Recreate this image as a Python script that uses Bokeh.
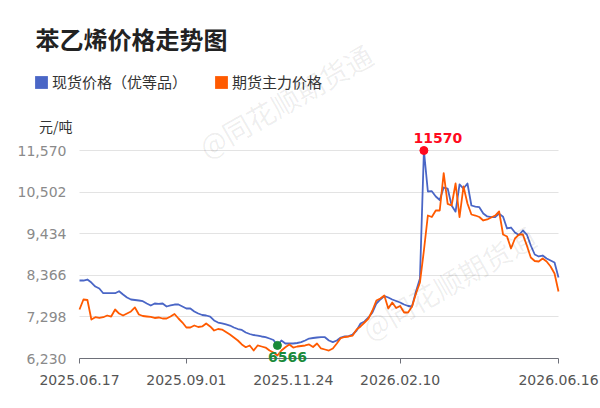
from bokeh.plotting import figure
from bokeh.models import (Range1d, FixedTicker, NumeralTickFormatter, Label, Legend,
                          LegendItem, LinearAxis, Grid)
from bokeh.embed import file_html
from bokeh.resources import INLINE

title_text = "苯乙烯价格走势图"
unit_text = "元/吨"
watermark = "@同花顺期货通"
series_names = ["现货价格（优等品）", "期货主力价格"]
tick_idx = [0, 54, 108, 162, 242]
tick_labels = ["2025.06.17", "2025.09.01", "2025.11.24", "2026.02.10", "2026.06.16"]
tick_marks = [0, 54, 162, 242]
y_ticks = [6230, 7298, 8366, 9434, 10502, 11570]
idx = list(range(0, 243, 2))

spot = [
    8232, 8232, 8258, 8180, 8078, 8027, 7906, 7906, 7906, 7906,
    7957, 7873, 7796, 7745, 7732, 7719, 7701, 7642, 7591, 7642,
    7630, 7642, 7565, 7591, 7616, 7616, 7565, 7514, 7514, 7437,
    7385, 7347, 7334, 7308, 7206, 7154, 7129, 7103, 7077, 7026,
    6987, 6962, 6897, 6859, 6833, 6820, 6795, 6777, 6743, 6705,
    6566, 6692, 6615, 6615, 6615, 6628, 6649, 6692, 6743, 6756,
    6769, 6777, 6777, 6692, 6649, 6692, 6769, 6795, 6807, 6846,
    6949, 7129, 7180, 7283, 7411, 7642, 7745, 7835, 7796, 7745,
    7706, 7668, 7616, 7578, 7565, 7950, 8284, 11570, 10517, 10525,
    10389, 10299, 10620, 10594, 10158, 10000, 10700, 10594, 10723, 10158,
    10132, 10114, 9953, 9876, 9858, 9858, 9950, 9870, 9568, 9593,
    9465, 9400, 9516, 9413, 9131, 8900, 8849, 8874, 8797, 8746,
    8695, 8310,
]
futures = [
    7488, 7745, 7732, 7231, 7290, 7270, 7290, 7334, 7308, 7488,
    7385, 7334, 7385, 7437, 7540, 7360, 7321, 7308, 7296, 7270,
    7283, 7257, 7257, 7308, 7372, 7257, 7154, 7026, 7026, 7077,
    7039, 7052, 7129, 7052, 6949, 6987, 6974, 6910, 6846, 6769,
    6692, 6590, 6520, 6564, 6435, 6564, 6538, 6512, 6435, 6384,
    6307, 6435, 6520, 6590, 6512, 6538, 6551, 6564, 6590, 6525,
    6615, 6487, 6461, 6435, 6487, 6615, 6756, 6782, 6795, 6820,
    6974, 7052, 7154, 7257, 7462, 7719, 7770, 7847, 7514, 7668,
    7527, 7578, 7411, 7411, 7565, 7899, 8181, 9003, 9901, 9862,
    10030, 10030, 10990, 10200, 10158, 10723, 9858, 10646, 10210, 9927,
    9901, 9862, 9773, 9799, 9850, 9901, 10004, 9413, 9362, 9054,
    9311, 9413, 9413, 9131, 8823, 8733, 8720, 8797, 8720, 8592,
    8412, 7950,
]

BLUE = "#4a66c6"
ORANGE = "#ff5a00"
CJK = "Noto Sans CJK SC"
NUM = "DejaVu Sans"

# layout (pixels): the plotting area inside the full-canvas frame
W, H = 600, 408
PL, PR, PT, PB = 79, 558, 150, 358
x0, x1 = idx[0], idx[-1]
y0, y1 = y_ticks[0], y_ticks[-1]
sx = (x1 - x0) / (PR - PL)
sy = (y1 - y0) / (PB - PT)
xr = Range1d(x0 - PL * sx, x1 + (W - PR) * sx)
yr = Range1d(y0 - (H - PB) * sy, y1 + PT * sy)

p = figure(width=W, height=H, output_backend="svg", toolbar_location=None,
           x_range=xr, y_range=yr, x_axis_location=None, y_axis_location=None,
           min_border=0, min_border_left=0, min_border_right=0,
           min_border_top=0, min_border_bottom=0)
p.outline_line_color = None
p.background_fill_color = "white"
p.border_fill_color = "white"
p.grid.visible = False

# watermarks
for wx, wy in [(285, H - 100), (448, H - 282)]:
    p.add_layout(Label(x=wx, y=wy, x_units="screen", y_units="screen", text=watermark,
                       angle=0.52, text_align="center", text_baseline="middle",
                       text_font=CJK, text_font_size="28px", text_color="#000000", text_alpha=0.07))

# grid
ygrid = Grid(dimension=1, ticker=FixedTicker(ticks=y_ticks), bounds=(y0, y1),
             cross_bounds=(x0, x1), grid_line_color="#e3e3e3", grid_line_width=1)
p.add_layout(ygrid)

# x axis: line + tick marks
xaxis = LinearAxis(fixed_location=y0, bounds=(x0, x1), ticker=FixedTicker(ticks=tick_marks),
                   major_label_text_alpha=0)
xaxis.axis_line_color = "#6e7079"
xaxis.major_tick_line_color = "#6e7079"
xaxis.major_tick_out = 5
xaxis.major_tick_in = 0
xaxis.minor_tick_line_color = None
xaxis.major_label_text_font_size = "1px"
p.add_layout(xaxis, "below")

# x axis: date labels
xlab = LinearAxis(fixed_location=y0, bounds=(x0, x1), ticker=FixedTicker(ticks=tick_idx),
                  major_label_overrides={i: t for i, t in zip(tick_idx, tick_labels)})
xlab.axis_line_color = None
xlab.major_tick_line_color = None
xlab.minor_tick_line_color = None
xlab.major_tick_out = 5
xlab.major_tick_in = 0
xlab.major_label_text_font = NUM
xlab.major_label_text_font_size = "14px"
xlab.major_label_text_color = "#555555"
xlab.major_label_standoff = 11
p.add_layout(xlab, "below")

yaxis = LinearAxis(fixed_location=x0, bounds=(y0, y1), ticker=FixedTicker(ticks=y_ticks),
                   formatter=NumeralTickFormatter(format="0,0"))
yaxis.axis_line_color = None
yaxis.major_tick_line_color = None
yaxis.minor_tick_line_color = None
yaxis.major_label_text_font = NUM
yaxis.major_label_text_font_size = "14px"
yaxis.major_label_text_color = "#8a8a8a"
yaxis.major_label_standoff = 7
p.add_layout(yaxis, "left")

# legend swatches: zero-height areas along each series (draw nothing in the plot)
sw1 = p.varea(x=idx, y1=spot, y2=spot, fill_color=BLUE)
sw2 = p.varea(x=idx, y1=futures, y2=futures, fill_color=ORANGE)

# lines
p.line(idx, spot, line_color=BLUE, line_width=1.8, line_join="round")
p.line(idx, futures, line_color=ORANGE, line_width=1.8, line_join="round")

# max / min markers
vmax = max(spot)
imax = idx[spot.index(vmax)]
vmin = min(spot)
imin = idx[spot.index(vmin)]
p.scatter([imax], [vmax], size=8, color="#ff0a1e")
p.scatter([imin], [vmin], size=8, color="#1a8a3a")
p.add_layout(Label(x=imax, y=vmax, text=str(vmax), x_offset=14, y_offset=13,
                   text_align="center", text_baseline="middle", text_font=NUM,
                   text_font_style="bold", text_font_size="14px", text_color="#ff0a1e"))
p.add_layout(Label(x=imin, y=vmin, text=str(vmin), x_offset=10, y_offset=-12,
                   text_align="center", text_baseline="middle", text_font=NUM,
                   text_font_style="bold", text_font_size="14px", text_color="#1a8a3a"))

# title, unit
p.add_layout(Label(x=35, y=H - 38, x_units="screen", y_units="screen", text=title_text,
                   text_align="left", text_baseline="middle", text_font=CJK,
                   text_font_style="bold", text_font_size="24px", text_color="#222222"))
p.add_layout(Label(x=72, y=H - 125, x_units="screen", y_units="screen", text=unit_text,
                   text_align="right", text_baseline="middle", text_font=CJK,
                   text_font_size="14px", text_color="#333333"))

legend = Legend(items=[LegendItem(label=series_names[0], renderers=[sw1]),
                       LegendItem(label=series_names[1], renderers=[sw2])],
                orientation="horizontal", location=(33, H - 92),
                border_line_color=None, background_fill_alpha=0,
                inactive_fill_alpha=0,
                padding=0, margin=0, spacing=26, label_standoff=3,
                glyph_width=16, glyph_height=16,
                label_text_font=CJK, label_text_font_size="15px", label_text_color="#333333")
p.add_layout(legend)

open("out.html", "w").write(file_html(p, INLINE))
